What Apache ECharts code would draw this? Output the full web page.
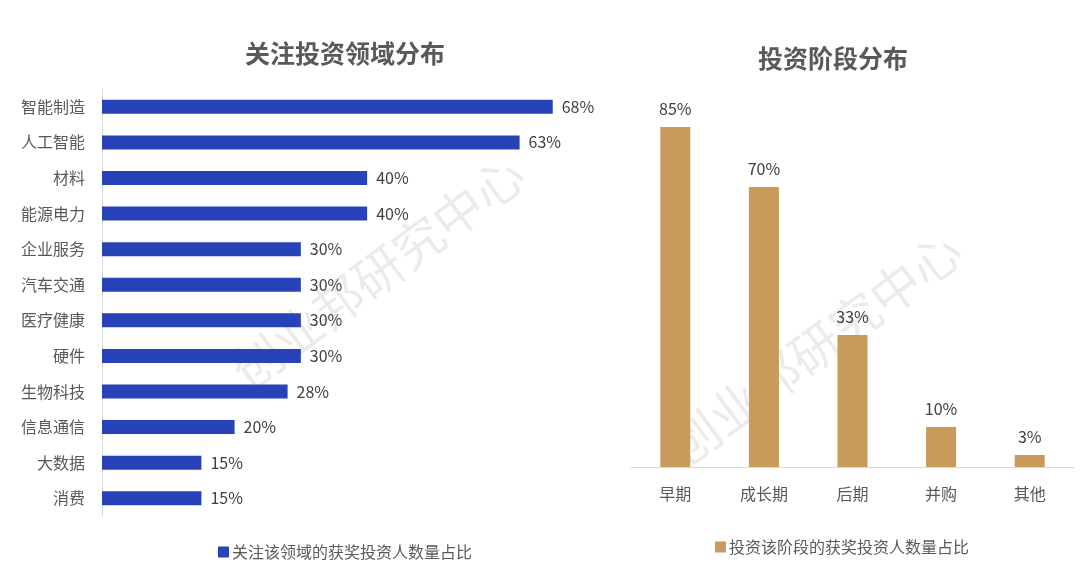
<!DOCTYPE html>
<html>
<head>
<meta charset="utf-8">
<script src="https://cdn.jsdelivr.net/npm/echarts@6/dist/echarts.min.js"></script>
<style>
html,body{margin:0;padding:0;background:#fff;}
#chart{width:1080px;height:580px;}
</style>
</head>
<body>
<div id="chart"></div>
<script>
// ---- Data ----
const fieldCategories = ['智能制造','人工智能','材料','能源电力','企业服务','汽车交通','医疗健康','硬件','生物科技','信息通信','大数据','消费'];
const fieldValues = [68,63,40,40,30,30,30,30,28,20,15,15];
const fieldSeriesName = '关注该领域的获奖投资人数量占比';

const stageCategories = ['早期','成长期','后期','并购','其他'];
const stageValues = [85,70,33,10,3];
const stageSeriesName = '投资该阶段的获奖投资人数量占比';

const titles = ['关注投资领域分布','投资阶段分布'];
const watermarkText = '创业邦研究中心';

const FONT = "'Noto Sans CJK SC', 'Noto Sans', sans-serif";
const BLUE = '#2843B7';
const GOLD = '#C89A5C';
const TXT = '#595959';

const chart = echarts.init(document.getElementById('chart'));
chart.setOption({
  backgroundColor: '#fff',
  textStyle: { fontFamily: FONT },
  title: [
    { text: titles[0], left: 340, top: 36, textAlign: 'center',
      textStyle: { fontSize: 25, fontWeight: 'bold', color: TXT, fontFamily: FONT } },
    { text: titles[1], left: 828, top: 41, textAlign: 'center',
      textStyle: { fontSize: 25, fontWeight: 'bold', color: TXT, fontFamily: FONT } }
  ],
  legend: [
    { data: [fieldSeriesName], left: 213, top: 539, icon: 'rect', itemWidth: 11, itemHeight: 11, itemGap: 4,
      textStyle: { fontSize: 16, color: TXT, fontFamily: FONT, padding: [0,0,0,-2] } },
    { data: [stageSeriesName], left: 710, top: 534, icon: 'rect', itemWidth: 11, itemHeight: 11, itemGap: 4,
      textStyle: { fontSize: 16, color: TXT, fontFamily: FONT, padding: [0,0,0,-2] } }
  ],
  graphic: [
    { type: 'text', x: 378, y: 272, rotation: 0.64, z: -10, silent: true,
      style: { text: watermarkText, fontSize: 50, fontFamily: FONT, fill: 'rgba(0,0,0,0.08)', align: 'center', verticalAlign: 'middle' } },
    { type: 'text', x: 815, y: 348, rotation: 0.64, z: -10, silent: true,
      style: { text: watermarkText, fontSize: 50, fontFamily: FONT, fill: 'rgba(0,0,0,0.08)', align: 'center', verticalAlign: 'middle' } }
  ],
  grid: [
    { left: 102, top: 89, width: 464, height: 427 },
    { left: 631, top: 67, width: 443, height: 400 }
  ],
  xAxis: [
    { type: 'value', gridIndex: 0, min: 0, max: 70, show: false },
    { type: 'category', gridIndex: 1, data: stageCategories,
      axisLine: { lineStyle: { color: '#d9d9d9', width: 1 } }, axisTick: { show: false },
      axisLabel: { fontSize: 16, color: TXT, margin: 19, fontFamily: FONT } }
  ],
  yAxis: [
    { type: 'category', gridIndex: 0, data: fieldCategories, inverse: true,
      axisLine: { lineStyle: { color: '#d9d9d9', width: 1 } }, axisTick: { show: false },
      axisLabel: { fontSize: 16, color: TXT, margin: 17, fontFamily: FONT } },
    { type: 'value', gridIndex: 1, min: 0, max: 100, show: false }
  ],
  series: [
    { name: fieldSeriesName, type: 'bar', xAxisIndex: 0, yAxisIndex: 0, data: fieldValues,
      barWidth: 14, itemStyle: { color: BLUE },
      label: { show: true, position: 'right', distance: 9, formatter: '{c}%', fontSize: 16, color: '#404040', fontFamily: FONT } },
    { name: stageSeriesName, type: 'bar', xAxisIndex: 1, yAxisIndex: 1, data: stageValues,
      barWidth: 30, itemStyle: { color: GOLD },
      label: { show: true, position: 'top', distance: 10, formatter: '{c}%', fontSize: 16, color: '#404040', fontFamily: FONT } }
  ]
});
</script>
</body>
</html>
